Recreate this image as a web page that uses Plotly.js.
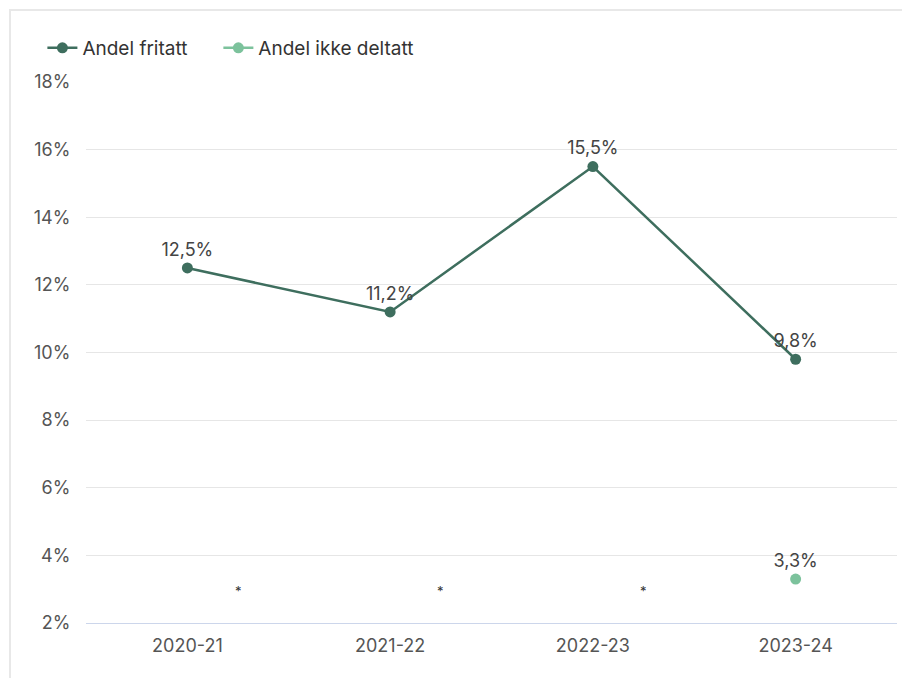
<!DOCTYPE html>
<html>
<head>
<meta charset="utf-8">
<script src="https://cdn.plot.ly/plotly-3.0.1.min.js"></script>
<style>
html,body{margin:0;padding:0;background:#fff;}
#frame{position:absolute;left:9px;top:9px;width:900px;height:700px;border-left:2px solid #e8e8e8;border-top:2px solid #e8e8e8;}
#chart{position:absolute;left:0;top:0;width:902px;height:678px;}
</style>
</head>
<body>
<div id="frame"></div>
<div id="chart"></div>
<script>
const categories = ['2020-21', '2021-22', '2022-23', '2023-24'];
const andelFritatt = [12.5, 11.2, 15.5, 9.8];
const andelIkkeDeltatt = [null, null, null, 3.3];
const noteLabels = ['*', '*', '*', null];
const noteValue = 2.95;
const yTicks = [2, 4, 6, 8, 10, 12, 14, 16, 18];

const fontFam = 'Inter, Roboto, "Open Sans", sans-serif';

const traces = [
  {
    x: categories, y: andelFritatt, name: 'Andel fritatt', legend: 'legend',
    type: 'scatter', mode: 'lines+markers+text',
    line: {color: '#3e6e5e', width: 2.5},
    marker: {color: '#3e6e5e', size: 11},
    texttemplate: '%{y:.1f}%', textposition: 'top center',
    textfont: {size: 18, color: '#444', family: fontFam},
    cliponaxis: false, hoverinfo: 'skip'
  },
  {
    x: categories, y: andelIkkeDeltatt, name: 'Andel ikke deltatt', legend: 'legend2',
    type: 'scatter', mode: 'lines+markers+text',
    line: {color: '#7cc29c', width: 2.5},
    marker: {color: '#7cc29c', size: 11},
    texttemplate: '%{y:.1f}%', textposition: 'top center',
    textfont: {size: 18, color: '#444', family: fontFam},
    cliponaxis: false, hoverinfo: 'skip'
  }
];

const annotations = [];
noteLabels.forEach((t, i) => {
  if (t) annotations.push({
    x: i + 0.25, y: noteValue, xref: 'x', yref: 'y', text: t, showarrow: false,
    font: {size: 13, color: '#333', family: fontFam}
  });
});

const legendBase = {
  orientation: 'h', xref: 'container', yref: 'container',
  y: 1 - 48/678, xanchor: 'left', yanchor: 'middle',
  font: {size: 19, color: '#333', family: fontFam}, itemclick: false
};

const layout = {
  width: 902, height: 678,
  margin: {l: 86, r: 5, t: 82, b: 55},
  paper_bgcolor: 'rgba(0,0,0,0)', plot_bgcolor: 'rgba(0,0,0,0)',
  separators: ', ',
  font: {family: fontFam, color: '#555', size: 18},
  showlegend: true,
  legend: Object.assign({}, legendBase, {x: 0.047}),
  legend2: Object.assign({}, legendBase, {x: 0.2421}),
  xaxis: {
    type: 'category', range: [-0.5, 3.5],
    showgrid: false, zeroline: false,
    showline: true, linecolor: '#ccd6eb', linewidth: 1,
    ticks: 'outside', ticklen: 6, tickcolor: 'rgba(0,0,0,0)',
    tickfont: {size: 18, color: '#555'}
  },
  yaxis: {
    range: [2, 18], tickvals: yTicks, ticktext: yTicks.map(v => v + '%'),
    showgrid: true, gridcolor: '#e6e6e6', gridwidth: 1, zeroline: false,
    showline: false,
    ticks: 'outside', ticklen: 11, tickcolor: 'rgba(0,0,0,0)',
    tickfont: {size: 18, color: '#555'}
  },
  annotations: annotations
};

Plotly.newPlot('chart', traces, layout, {displayModeBar: false, staticPlot: true});
</script>
</body>
</html>
